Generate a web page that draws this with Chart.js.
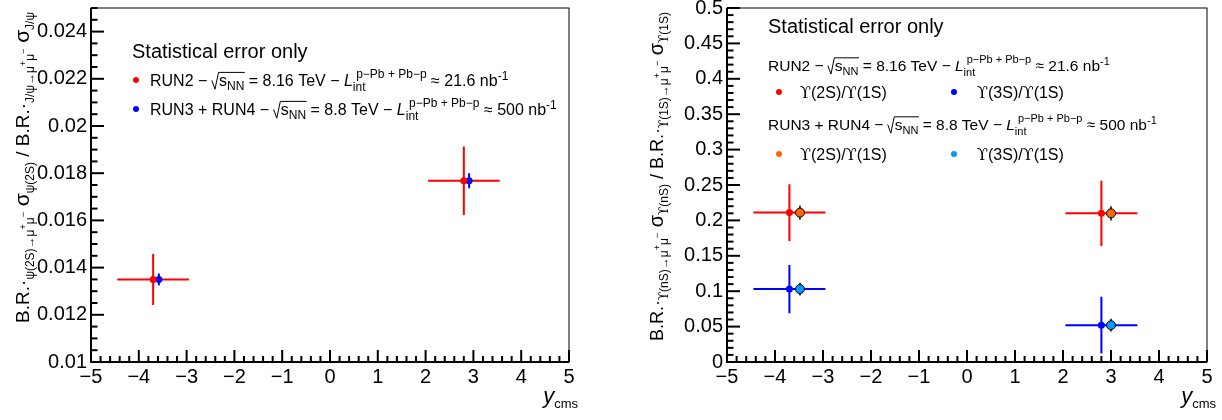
<!DOCTYPE html>
<html>
<head>
<meta charset="utf-8">
<script src="https://cdn.jsdelivr.net/npm/chart.js@4.4.1/dist/chart.umd.min.js"></script>
<style>
  body { margin: 0; background: #fff; }
  #wrap { position: relative; width: 1222px; height: 420px; }
  canvas { position: absolute; top: 0; }
</style>
</head>
<body>
<div id="wrap">
  <canvas id="psi" width="611" height="420" style="left:0"></canvas>
  <canvas id="ups" width="611" height="420" style="left:611px"></canvas>
</div>
<script>
// ---- psi(2S) / J/psi ----
const psiRun2X = [-3.7, 2.8];
const psiRun2Y = [0.01350, 0.01768];
const psiRun2YErr = [0.00108, 0.00145];
const psiRun2XErr = [0.75, 0.75];
const psiRun34X = [-3.58, 2.91];
const psiRun34Y = [0.01350, 0.01768];
const psiRun34YErr = [0.00025, 0.00032];

// ---- Upsilon(nS) / Upsilon(1S) ----
const upsRun2X = [-3.7, 2.8];
const upsRun2XErr = [0.75, 0.75];
const ups2sRun2Y = [0.211, 0.210];
const ups2sRun2YErr = [0.040, 0.046];
const ups3sRun2Y = [0.103, 0.052];
const ups3sRun2YErr = [0.034, 0.040];
const upsRun34X = [-3.48, 3.0];
const ups2sRun34Y = [0.211, 0.210];
const ups2sRun34YErr = [0.010, 0.010];
const ups3sRun34Y = [0.103, 0.052];
const ups3sRun34YErr = [0.009, 0.009];

// ---- axis ticks ----
const xTicks = [-5, -4, -3, -2, -1, 0, 1, 2, 3, 4, 5];
const psiYTicks = [0.01, 0.012, 0.014, 0.016, 0.018, 0.02, 0.022, 0.024];
const upsYTicks = [0, 0.05, 0.1, 0.15, 0.2, 0.25, 0.3, 0.35, 0.4, 0.45, 0.5];

const FONT = '"Liberation Sans", Arial, "DejaVu Sans", sans-serif';
const SERIF = '"DejaVu Serif", serif';
const RED = '#ff0000', BLUE = '#0000ff', ORANGE = '#ff6600', AZURE = '#0099ff';

const T = (t, s, dy, it, f) => ({ t, s, dy: dy || 0, it: !!it, f: f || FONT });

// draw a run of text pieces (sub/superscripts, sqrt, stacked scripts)
function drawParts(ctx, x, y, parts, dry) {
  let cx = x;
  for (const p of parts) {
    if (p.sqrt) {
      const w = drawParts(ctx, 0, 0, p.sqrt, true);
      const fs = p.s;
      if (!dry) {
        ctx.save();
        ctx.lineWidth = 1;
        ctx.beginPath();
        ctx.moveTo(cx, y - 0.35 * fs);
        ctx.lineTo(cx + 0.2 * fs, y + 0.2 * fs);
        ctx.lineTo(cx + 0.42 * fs, y - 0.85 * fs);
        ctx.lineTo(cx + 0.48 * fs + w, y - 0.85 * fs);
        ctx.stroke();
        ctx.restore();
        drawParts(ctx, cx + 0.45 * fs, y, p.sqrt);
      }
      cx += 0.45 * fs + w;
      continue;
    }
    if (p.stack) {
      let w = 0;
      for (const q of p.stack) {
        w = Math.max(w, dry ? drawParts(ctx, 0, 0, q, true) : drawParts(ctx, cx, y, q));
      }
      cx += w;
      continue;
    }
    ctx.font = (p.it ? 'italic ' : '') + p.s + 'px ' + p.f;
    if (!dry) ctx.fillText(p.t, cx, y + p.dy);
    cx += ctx.measureText(p.t).width;
  }
  return cx - x;
}

function lumi(fs, energy, value) {
  const ss = Math.round(fs * 0.72);
  return [
    T(' − ', fs),
    { sqrt: [T('s', fs), T('NN', ss, 4)], s: fs },
    T(' = ' + energy + ' TeV − ', fs),
    T('L', fs, 0, true),
    { stack: [[T(' p−Pb + Pb−p', ss, -8)], [T('int', ss, 5)]] },
    T(' ≈ ' + value + ' nb', fs),
    T('-1', ss, -6)
  ];
}

// Υ(nS) with a curly upsilon glyph
const ups = (n, s, dy) => [T('ϒ', s, dy, false, SERIF), T('(' + n + ')', s, dy)];

function yTitle(main, sub, num, den) {
  // B.R._{num→μ+μ-} σ_{num} / B.R._{den→μ+μ-} σ_{den}
  const d = 5, u = -3;
  return [
    T('B.R.·', main), ...num(sub, d), T('→μ', sub, d), T('+', 9, u), T('μ', sub, d), T('−', 9, u),
    T(' σ', main + 2), ...num(sub, d),
    T(' / B.R.·', main), ...den(sub, d), T('→μ', sub, d), T('+', 9, u), T('μ', sub, d), T('−', 9, u),
    T(' σ', main + 2), ...den(sub, d)
  ];
}

const fmt = v => String(v).replace('-', '−');

function pts(xs, ys, eys, exs) {
  return xs.map((x, i) => ({ x, y: ys[i], ey: eys ? eys[i] : 0, ex: exs ? exs[i] : 0 }));
}

// ROOT-like box with inward ticks, then error bars under the markers
function rootFrame(yLo, yHi, xMinor, xPer, yMinor, yPer) {
  return {
    id: 'inticks',
    beforeDatasetsDraw(chart) {
      const { ctx, chartArea: a } = chart;
      const x = chart.scales.x, y = chart.scales.y;
      ctx.save();
      ctx.strokeStyle = '#000';
      ctx.lineWidth = 1;
      ctx.strokeRect(a.left, a.top, a.right - a.left, a.bottom - a.top);
      ctx.lineWidth = 2;
      const nx = Math.round(10 / xMinor);
      for (let i = 0; i <= nx; i++) {
        const px = x.getPixelForValue(-5 + i * xMinor);
        ctx.beginPath();
        ctx.moveTo(px, a.bottom);
        ctx.lineTo(px, a.bottom - (i % xPer === 0 ? 12 : 6));
        ctx.stroke();
      }
      const ny = Math.round((yHi - yLo) / yMinor);
      for (let i = 0; i <= ny; i++) {
        const py = y.getPixelForValue(yLo + i * yMinor);
        ctx.beginPath();
        ctx.moveTo(a.left, py);
        ctx.lineTo(a.left + (i % yPer === 0 ? 13 : 6.5), py);
        ctx.stroke();
      }
      ctx.beginPath();
      ctx.moveTo(a.left, a.top);
      ctx.lineTo(a.left, a.bottom);
      ctx.lineTo(a.right, a.bottom);
      ctx.stroke();

      chart.data.datasets.forEach(ds => {
        ctx.strokeStyle = ds.errColor;
        ctx.lineWidth = ds.errWidth;
        ds.data.forEach(p => {
          const px = x.getPixelForValue(p.x), py = y.getPixelForValue(p.y);
          ctx.beginPath();
          if (p.ey) {
            ctx.moveTo(px, y.getPixelForValue(p.y - p.ey));
            ctx.lineTo(px, y.getPixelForValue(p.y + p.ey));
          }
          if (p.ex) {
            ctx.moveTo(x.getPixelForValue(p.x - p.ex), py);
            ctx.lineTo(x.getPixelForValue(p.x + p.ex), py);
          }
          ctx.stroke();
        });
      });
      ctx.restore();
    }
  };
}

function textPlugin(draw) {
  return {
    id: 'texts',
    afterDraw(chart) {
      const ctx = chart.ctx;
      ctx.save();
      ctx.fillStyle = '#000';
      ctx.strokeStyle = '#000';
      ctx.textBaseline = 'alphabetic';
      draw(ctx, chart);
      ctx.restore();
    }
  };
}

function dot(ctx, x, y, r, color) {
  ctx.beginPath();
  ctx.arc(x, y, r, 0, Math.PI * 2);
  ctx.fillStyle = color;
  ctx.fill();
  ctx.fillStyle = '#000';
}

function drawXTitle(ctx, chart) {
  const parts = [T('y', 22, 0, true), T('cms', 13, 5)];
  const w = drawParts(ctx, 0, 0, parts, true);
  drawParts(ctx, chart.chartArea.right + 9 - w, 403, parts);
}

function drawYTitle(ctx, x, topY, parts) {
  const w = drawParts(ctx, 0, 0, parts, true);
  ctx.save();
  ctx.translate(x, topY + w);
  ctx.rotate(-Math.PI / 2);
  drawParts(ctx, 0, 0, parts);
  ctx.restore();
}

function options(yMin, yMax, yTicks, yWidth, padRight) {
  return {
    responsive: false,
    animation: false,
    events: [],
    layout: { padding: { top: 8, right: padRight, left: 0, bottom: 0 } },
    plugins: { legend: { display: false }, tooltip: { enabled: false } },
    scales: {
      x: {
        type: 'linear', min: -5, max: 5,
        grid: { display: false },
        border: { display: false },
        afterBuildTicks: s => { s.ticks = xTicks.map(value => ({ value })); },
        afterFit: s => { s.height = 58; s.paddingLeft = 0; s.paddingRight = 0; },
        // default tick length (8) still offsets the labels, so pull them back in
        ticks: { padding: -5, color: '#000', font: { family: FONT, size: 20 }, maxRotation: 0, autoSkip: false, callback: fmt }
      },
      y: {
        type: 'linear', min: yMin, max: yMax,
        grid: { display: false },
        border: { display: false },
        afterBuildTicks: s => { s.ticks = yTicks.map(value => ({ value })); },
        afterFit: s => { s.width = yWidth; s.paddingTop = 0; s.paddingBottom = 0; },
        ticks: { padding: -4, color: '#000', font: { family: FONT, size: 20 }, autoSkip: false, callback: fmt }
      }
    }
  };
}

// ---------- left: psi(2S) ----------
const psiName = (s, d) => [T('ψ(2S)', s, d)];
const jpsiName = (s, d) => [T('J/ψ', s, d)];
new Chart(document.getElementById('psi'), {
  type: 'scatter',
  data: {
    datasets: [
      { data: pts(psiRun2X, psiRun2Y, psiRun2YErr, psiRun2XErr), pointRadius: 3.5, pointBackgroundColor: RED, pointBorderWidth: 0, errColor: RED, errWidth: 2 },
      { data: pts(psiRun34X, psiRun34Y, psiRun34YErr), pointRadius: 3.5, pointBackgroundColor: BLUE, pointBorderWidth: 0, errColor: BLUE, errWidth: 2 }
    ]
  },
  options: options(0.01, 0.025, psiYTicks, 91, 42),
  plugins: [rootFrame(0.01, 0.025, 0.2, 5, 0.0005, 4), textPlugin((ctx, chart) => {
    drawParts(ctx, 132, 58, [T('Statistical error only', 20)]);
    dot(ctx, 136, 80, 3, RED);
    drawParts(ctx, 150, 86, [T('RUN2', 16)].concat(lumi(16, '8.16', '21.6')));
    dot(ctx, 136, 109, 3, BLUE);
    drawParts(ctx, 150, 115, [T('RUN3 + RUN4', 16)].concat(lumi(16, '8.8', '500')));
    drawXTitle(ctx, chart);
    drawYTitle(ctx, 29, 12, yTitle(19, 12, psiName, jpsiName));
  })]
});

// ---------- right: Upsilon ----------
const nS = (s, d) => ups('nS', s, d);
const oneS = (s, d) => ups('1S', s, d);
new Chart(document.getElementById('ups'), {
  type: 'scatter',
  data: {
    datasets: [
      { data: pts(upsRun2X, ups2sRun2Y, ups2sRun2YErr, upsRun2XErr), pointRadius: 3.5, pointBackgroundColor: RED, pointBorderWidth: 0, errColor: RED, errWidth: 2 },
      { data: pts(upsRun2X, ups3sRun2Y, ups3sRun2YErr, upsRun2XErr), pointRadius: 3.5, pointBackgroundColor: BLUE, pointBorderWidth: 0, errColor: BLUE, errWidth: 2 },
      { data: pts(upsRun34X, ups2sRun34Y, ups2sRun34YErr), pointRadius: 4.5, pointBackgroundColor: ORANGE, pointBorderColor: '#000', pointBorderWidth: 1, errColor: '#000', errWidth: 1.5 },
      { data: pts(upsRun34X, ups3sRun34Y, ups3sRun34YErr), pointRadius: 4.5, pointBackgroundColor: AZURE, pointBorderColor: '#000', pointBorderWidth: 1, errColor: '#000', errWidth: 1.5 }
    ]
  },
  options: options(0, 0.5, upsYTicks, 116, 15),
  plugins: [rootFrame(0, 0.5, 0.2, 5, 0.01, 5), textPlugin((ctx, chart) => {
    const r2 = ups('2S', 16).concat([T('/', 16)], ups('1S', 16));
    const r3 = ups('3S', 16).concat([T('/', 16)], ups('1S', 16));
    drawParts(ctx, 157, 33, [T('Statistical error only', 20)]);
    drawParts(ctx, 157, 71, [T('RUN2', 15.5)].concat(lumi(15.5, '8.16', '21.6')));
    dot(ctx, 168, 92, 3, RED);
    drawParts(ctx, 189, 98, r2);
    dot(ctx, 343, 92, 3, BLUE);
    drawParts(ctx, 366, 98, r3);
    drawParts(ctx, 157, 130, [T('RUN3 + RUN4', 15.5)].concat(lumi(15.5, '8.8', '500')));
    dot(ctx, 168, 154, 3, ORANGE);
    drawParts(ctx, 189, 160, r2);
    dot(ctx, 343, 154, 3, AZURE);
    drawParts(ctx, 366, 160, r3);
    drawXTitle(ctx, chart);
    drawYTitle(ctx, 52, 12, yTitle(18, 12, nS, oneS));
  })]
});
</script>
</body>
</html>
